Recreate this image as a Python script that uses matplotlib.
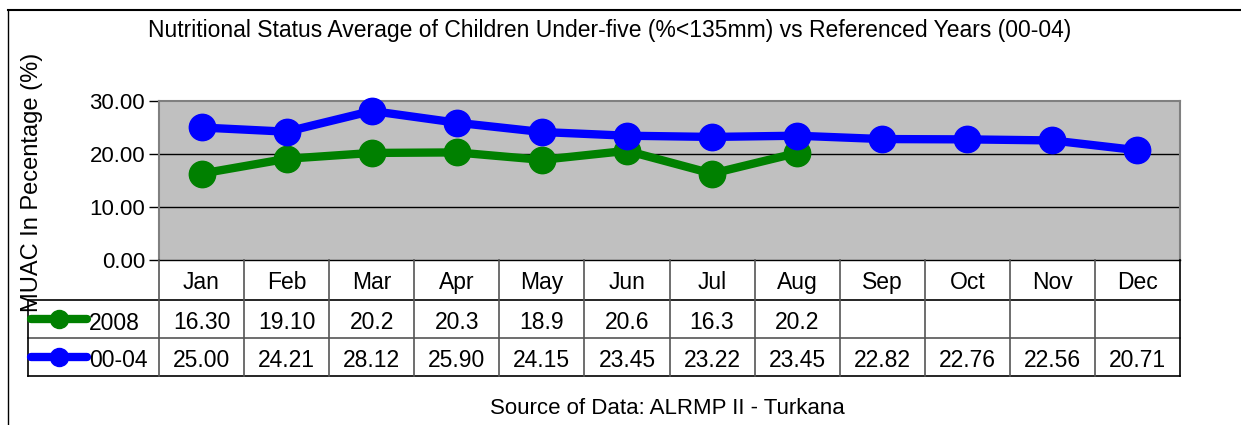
import matplotlib.pyplot as plt
from matplotlib.lines import Line2D

plt.rcParams['font.family'] = ['Liberation Sans', 'DejaVu Sans']

####DATA####
months = ['Jan', 'Feb', 'Mar', 'Apr', 'May', 'Jun', 'Jul', 'Aug', 'Sep', 'Oct', 'Nov', 'Dec']
vals_2008 = [16.30, 19.10, 20.2, 20.3, 18.9, 20.6, 16.3, 20.2]
vals_0004 = [25.00, 24.21, 28.12, 25.90, 24.15, 23.45, 23.22, 23.45, 22.82, 22.76, 22.56, 20.71]
# numbers as printed in the data table
text_2008 = ['16.30', '19.10', '20.2', '20.3', '18.9', '20.6', '16.3', '20.2']
text_0004 = ['25.00', '24.21', '28.12', '25.90', '24.15', '23.45', '23.22', '23.45', '22.82', '22.76', '22.56', '20.71']
series_names = ['2008', '00-04']
yticks = [0, 10, 20, 30]

title = 'Nutritional Status Average of Children Under-five (%<135mm) vs Referenced Years (00-04)'
ylabel = 'MUAC In Pecentage (%)'
source = 'Source of Data: ALRMP II - Turkana'

GREEN = '#008000'
BLUE = '#0000ff'
GRID_COL = '#555555'
FS = 16.5

W, H = 1241, 425
fig = plt.figure(figsize=(W / 100, H / 100), dpi=100)


def rect(x0, y0, x1, y1):
    # pixel box (top-left origin) -> figure fraction
    return [x0 / W, 1 - y1 / H, (x1 - x0) / W, (y1 - y0) / H]


#plot area
PL, PR, PT, PB = 159, 1180, 101, 260
ax = fig.add_axes(rect(PL, PT, PR, PB))
ax.set_facecolor('#c0c0c0')
ax.set_xlim(-0.5, len(months) - 0.5)
ax.set_ylim(0, 30)
ax.set_yticks(yticks)
ax.set_yticklabels(['%.2f' % t for t in yticks], fontsize=16)
ax.set_xticks([])
ax.tick_params(axis='y', length=7, width=1, color='black', pad=3)
for t in yticks[1:3]:
    ax.axhline(t, color='black', lw=1, zorder=1)
for s in ['top', 'right', 'left']:
    ax.spines[s].set_color('#808080')
    ax.spines[s].set_linewidth(1.5)
ax.spines['bottom'].set_color('black')
ax.spines['bottom'].set_linewidth(1)

ax.plot(range(len(vals_2008)), vals_2008, color=GREEN, lw=6, marker='o', ms=19,
        solid_capstyle='round', zorder=3, clip_on=False)
ax.plot(range(len(vals_0004)), vals_0004, color=BLUE, lw=6, marker='o', ms=19,
        solid_capstyle='round', zorder=4, clip_on=False)

#data table under the plot
TL, TB = 28, 376
R1, R2 = 300, 338
cw = (PR - PL) / len(months)
left = -0.5 - (PL - TL) / cw
tax = fig.add_axes(rect(TL, PB, PR, TB))
tax.set_xlim(left, len(months) - 0.5)
tax.set_ylim(TB, PB)
tax.axis('off')

for y, c in [(R1, 'black'), (R2, GRID_COL), (TB, 'black')]:
    tax.plot([left, len(months) - 0.5], [y, y], color=c, lw=1.2, clip_on=False)
tax.plot([left, left], [R1, TB], color='black', lw=1.2, clip_on=False)
for i in range(len(months)):
    tax.plot([i - 0.5, i - 0.5], [PB, TB], color=GRID_COL, lw=1.2, clip_on=False)
tax.plot([len(months) - 0.5] * 2, [PB, TB], color='black', lw=1.2, clip_on=False)

# text baselines (pixels from top) for each table row
base_head, base_2008, base_0004 = 289, 329, 367
for i, m in enumerate(months):
    tax.text(i, base_head, m, ha='center', va='baseline', fontsize=FS)
for i, s in enumerate(text_2008):
    tax.text(i, base_2008, s, ha='center', va='baseline', fontsize=FS)
for i, s in enumerate(text_0004):
    tax.text(i, base_0004, s, ha='center', va='baseline', fontsize=FS)

#legend keys in the first column
x_a = left + 3 / cw
x_b = left + 59 / cw
x_m = (x_a + x_b) / 2
for (y0, y1), base, col, name in [((R1, R2), base_2008 + 1, GREEN, series_names[0]),
                                  ((R2, TB), base_0004, BLUE, series_names[1])]:
    yc = (y0 + y1) / 2
    tax.plot([x_a, x_b], [yc, yc], color=col, lw=6, solid_capstyle='round', clip_on=False)
    tax.plot([x_m], [yc], color=col, marker='o', ms=13, clip_on=False)
    tax.text(x_b + 2 / cw, base, name, ha='left', va='baseline', fontsize=FS)

#texts
fig.text(610 / W, 1 - 30 / H, title, ha='center', va='center', fontsize=16.5)
fig.text(32 / W, 1 - 182 / H, ylabel, ha='center', va='center', rotation=90, fontsize=17)
fig.text(667 / W, 1 - 409 / H, source, ha='center', va='center', fontsize=16)

#outer frame
fig.add_artist(Line2D([8 / W, 1], [1 - 9.5 / H] * 2, color='black', lw=1.5))
fig.add_artist(Line2D([8 / W] * 2, [0, 1 - 9.5 / H], color='black', lw=1))

fig.savefig('out.png', dpi=100)
